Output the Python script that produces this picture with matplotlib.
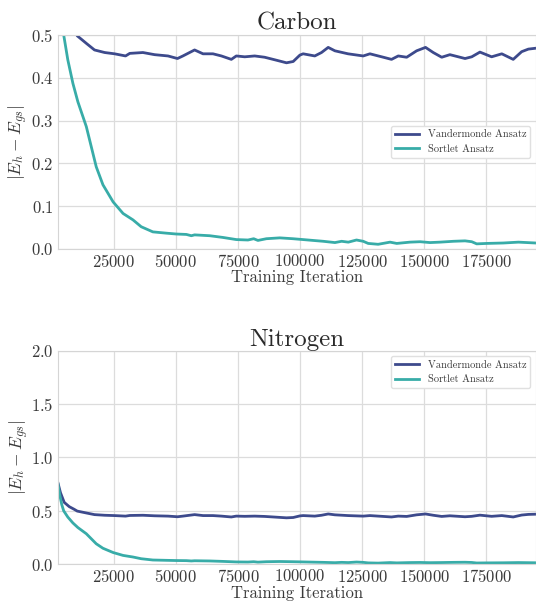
import matplotlib
matplotlib.use('Agg')
import matplotlib.pyplot as plt

plt.rcParams['font.family'] = 'serif'
plt.rcParams['font.serif'] = ['cmr10', 'DejaVu Serif']
plt.rcParams['mathtext.fontset'] = 'cm'
plt.rcParams['axes.formatter.use_mathtext'] = True

# training iteration vs |E_h - E_gs|
vander_iter = [2500, 3500, 5000, 7000, 9000, 10250, 14000, 17200, 21300, 25300, 29700, 31400,
               36700, 41400, 46800, 50600, 52800, 57500, 60900, 64900, 68300, 72300, 74300,
               77700, 81700, 85700, 89800, 94500, 97200, 99900, 101200, 105900, 108600,
               111300, 114000, 119300, 125400, 128100, 133500, 136800, 139500, 142900,
               146900, 150500, 153600, 157000, 160300, 166400, 169100, 172400, 177100,
               181200, 185800, 189200, 191900, 194800]
vander_err = [0.76, 0.67, 0.58, 0.54, 0.515, 0.498, 0.48, 0.465, 0.459, 0.456, 0.451, 0.457,
              0.459, 0.454, 0.451, 0.445, 0.451, 0.465, 0.456, 0.456, 0.451, 0.443, 0.451,
              0.449, 0.451, 0.448, 0.442, 0.435, 0.438, 0.453, 0.456, 0.451, 0.459,
              0.471, 0.463, 0.456, 0.451, 0.456, 0.448, 0.443, 0.451, 0.448,
              0.463, 0.471, 0.459, 0.448, 0.454, 0.445, 0.449, 0.460, 0.449,
              0.456, 0.443, 0.461, 0.467, 0.469]

sortlet_iter = [2500, 3200, 4000, 4800, 6450, 8500, 10500, 13900, 15900, 17900, 20600, 24700,
                28700, 32700, 36000, 40700, 46100, 50100, 54200, 56200, 57500, 63600, 68900,
                74300, 79000, 81300, 83000, 86400, 91800, 97100, 101200, 105200, 109300,
                114000, 116700, 119400, 122700, 125400, 127400, 131400, 136200, 138900,
                144200, 148300, 152300, 156300, 161700, 166400, 169100, 171100, 175100,
                181800, 187900, 194800]
sortlet_err = [0.75, 0.65, 0.56, 0.50, 0.442, 0.387, 0.344, 0.286, 0.239, 0.192, 0.150, 0.110,
               0.083, 0.068, 0.052, 0.040, 0.037, 0.035, 0.034, 0.031, 0.033, 0.031, 0.027,
               0.022, 0.021, 0.024, 0.020, 0.024, 0.026, 0.024, 0.022, 0.020, 0.018,
               0.015, 0.018, 0.016, 0.021, 0.018, 0.013, 0.011, 0.016, 0.013,
               0.016, 0.017, 0.015, 0.016, 0.018, 0.019, 0.017, 0.012, 0.013,
               0.014, 0.016, 0.014]

titles = ['Carbon', 'Nitrogen']
ylims = [(0, 0.5), (0, 2.0)]
legend_locs = ['center right', 'upper right']
txt = '#3a3a3a'

fig = plt.figure(figsize=(5.36, 6.01), dpi=100)
axes = [fig.add_axes([0.1082, 0.5857, 0.8910, 0.3561]),
        fig.add_axes([0.1082, 0.0611, 0.8910, 0.3554])]

for ax, title, ylim, loc in zip(axes, titles, ylims, legend_locs):
    ax.plot(vander_iter, vander_err, color='#3d4a8c', lw=2, label='Vandermonde Ansatz')
    ax.plot(sortlet_iter, sortlet_err, color='#38aca8', lw=2, label='Sortlet Ansatz')
    ax.set_xlim(2500, 194800)
    ax.set_ylim(*ylim)
    ax.set_xticks([25000, 50000, 75000, 100000, 125000, 150000, 175000])
    if ylim[1] > 1:
        ax.set_yticks([0.0, 0.5, 1.0, 1.5, 2.0])
    else:
        ax.set_yticks([0.0, 0.1, 0.2, 0.3, 0.4, 0.5])
    ax.grid(True, color='#dcdcdc', lw=0.9)
    ax.set_axisbelow(True)
    for s in ax.spines.values():
        s.set_color('#d5d5d5')
    ax.tick_params(length=0, labelsize=12, pad=3, colors=txt)
    ax.set_title(title, fontsize=18, pad=3, color='#2a2a2a')
    ax.set_xlabel('Training Iteration', fontsize=12, labelpad=0, color=txt)
    ax.set_ylabel(r'$|E_h - E_{gs}|$', fontsize=12.5, labelpad=0.5, color=txt)
    leg = ax.legend(loc=loc, fontsize=7.5, handlelength=2.3, frameon=True,
                    edgecolor='#e0e0e0', fancybox=True, framealpha=1)
    for t in leg.get_texts():
        t.set_color(txt)

fig.savefig('out.png', dpi=100)
